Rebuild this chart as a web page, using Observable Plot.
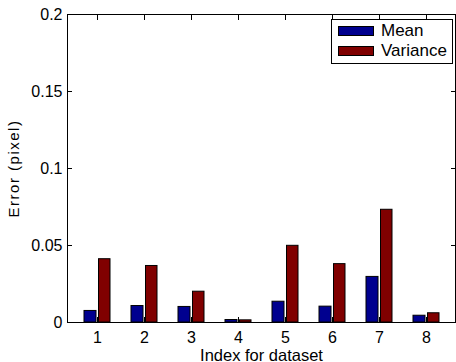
<!DOCTYPE html>
<html><head><meta charset="utf-8">
<script src="https://cdn.jsdelivr.net/npm/d3@7"></script>
<script src="https://cdn.jsdelivr.net/npm/@observablehq/plot@0.6"></script>
<style>
body{margin:0;background:#fff}
#wrap{position:relative;width:456px;height:362px;font-family:"Liberation Sans",Arial,sans-serif}
#legend{position:absolute;left:331px;top:19px;width:122px;height:45px;border:1px solid #000;background:#fff;font-size:17px;box-sizing:border-box}
.item{position:absolute;left:6px;height:20px;display:flex;align-items:center}
.sw{width:36px;height:10px;border:1px solid #000;box-sizing:border-box;margin-right:7px}
</style></head><body><div id="wrap"></div>
<script>
const datasets = [1, 2, 3, 4, 5, 6, 7, 8];
const meanValues = [0.0075, 0.0107, 0.0101, 0.0016, 0.0135, 0.0103, 0.0296, 0.0044];
const varianceValues = [0.0411, 0.0367, 0.0200, 0.0014, 0.0498, 0.0379, 0.0732, 0.0060];
const seriesNames = ["Mean", "Variance"];
const seriesColors = ["#00008f", "#800000"];
const yTicks = [0, 0.05, 0.1, 0.15, 0.2];
const yTickLabels = ["0", "0.05", "0.1", "0.15", "0.2"];

const meanRows = datasets.map((d, i) => ({dataset: d, value: meanValues[i]}));
const varRows = datasets.map((d, i) => ({dataset: d, value: varianceValues[i]}));
const fmtY = d => yTickLabels[yTicks.indexOf(d)];

const chart = Plot.plot({
  width: 456, height: 362,
  marginTop: 14, marginBottom: 40, marginLeft: 67, marginRight: 1,
  style: {fontFamily: '"Liberation Sans", Arial, sans-serif', fontSize: "16px", color: "#000", background: "#fff"},
  x: {type: "band", domain: datasets, paddingInner: 0.4534, paddingOuter: 0.305},
  y: {domain: [0, 0.2]},
  marks: [
    Plot.barY(meanRows, {x: "dataset", y: "value", fill: seriesColors[0], stroke: "#000", strokeWidth: 1, insetRight: 14}),
    Plot.barY(varRows, {x: "dataset", y: "value", fill: seriesColors[1], stroke: "#000", strokeWidth: 1, insetLeft: 14.5}),
    Plot.frame({stroke: "#000"}),
    Plot.axisX({anchor: "bottom", tickSize: 0, tickPadding: 9, label: "Index for dataset", labelAnchor: "center", labelOffset: 38, labelArrow: "none"}),
    Plot.axisX({anchor: "bottom", tickSize: -5, text: null, label: null}),
    Plot.axisX({anchor: "top", tickSize: -5, text: null, label: null}),
    Plot.axisY({anchor: "left", ticks: yTicks, tickSize: 0, tickPadding: 5, tickFormat: fmtY, label: "Error (pixel)", labelAnchor: "center", labelOffset: 59, labelArrow: "none"}),
    Plot.axisY({anchor: "left", ticks: yTicks, tickSize: -5, text: null, label: null}),
    Plot.axisY({anchor: "right", ticks: yTicks, tickSize: -5, text: null, label: null})
  ]
});
const xl = chart.querySelector('[aria-label="x-axis label"]');
if (xl) xl.style.fontSize = "16.5px";
const yl = chart.querySelector('[aria-label="y-axis label"]');
if (yl) { yl.style.fontSize = "15px"; yl.style.letterSpacing = "1.5px"; }
const wrap = document.getElementById("wrap");
wrap.appendChild(chart);

const legend = document.createElement("div");
legend.id = "legend";
seriesNames.forEach((name, i) => {
  const item = document.createElement("div");
  item.className = "item";
  item.style.top = (i * 20 + 1) + "px";
  const sw = document.createElement("div");
  sw.className = "sw";
  sw.style.background = seriesColors[i];
  const t = document.createElement("span");
  t.textContent = name;
  item.appendChild(sw);
  item.appendChild(t);
  legend.appendChild(item);
});
wrap.appendChild(legend);
</script>
</body></html>
